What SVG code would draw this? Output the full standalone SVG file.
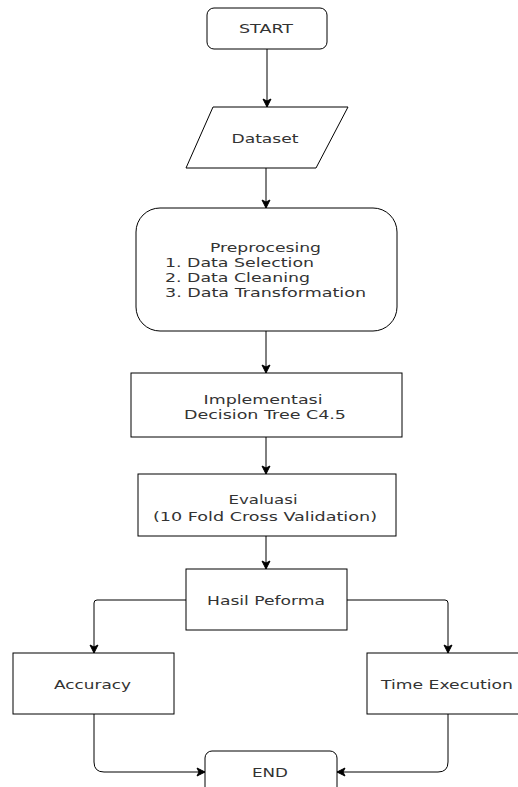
<svg xmlns="http://www.w3.org/2000/svg" width="518" height="787" viewBox="0 0 518 787">
<style>
.box{fill:#fff;stroke:#000;stroke-width:1}
.lbl{font-family:"DejaVu Sans","Verdana",sans-serif;font-size:12.5px;fill:#333;text-anchor:middle}
.lft{text-anchor:start}
.con{fill:none;stroke:#000;stroke-width:1}
</style>
<defs>
<marker id="arr" markerUnits="userSpaceOnUse" markerWidth="10" markerHeight="10" viewBox="0 0 10 10" refX="9" refY="5" orient="auto">
<path d="M1,1 L9,5 L1,9 L3,5 z" fill="#000" stroke="#000" stroke-width="1"/>
</marker>
</defs>
<rect width="518" height="787" fill="#fff"/>
<g id="connectors">
<path class="con" d="M267,49 V107" marker-end="url(#arr)"/>
<path class="con" d="M266,168 V208" marker-end="url(#arr)"/>
<path class="con" d="M266,331 V373" marker-end="url(#arr)"/>
<path class="con" d="M266,437 V474" marker-end="url(#arr)"/>
<path class="con" d="M266,536 V569" marker-end="url(#arr)"/>
<path class="con" d="M186,600 H97 Q94,600 94,603 V653" marker-end="url(#arr)"/>
<path class="con" d="M347,600 H445 Q448,600 448,603 V653" marker-end="url(#arr)"/>
<path class="con" d="M94,714 V762 Q94,772 104,772 H205" marker-end="url(#arr)"/>
<path class="con" d="M448,714 V762 Q448,772 438,772 H337" marker-end="url(#arr)"/>
</g>
<g id="start">
<rect class="box" x="207" y="8" width="120" height="41" rx="7"/>
<text class="lbl" x="266" y="33" textLength="54" lengthAdjust="spacingAndGlyphs">START</text>
</g>
<g id="dataset">
<polygon class="box" points="213,107 348,107 316,168 186,168"/>
<text class="lbl" x="265" y="143" textLength="67" lengthAdjust="spacingAndGlyphs">Dataset</text>
</g>
<g id="preprocesing">
<rect class="box" x="136" y="208" width="261" height="123" rx="24"/>
<text class="lbl" x="265.5" y="252" textLength="111" lengthAdjust="spacingAndGlyphs">Preprocesing</text>
<text class="lbl lft" x="165" y="267" textLength="149" lengthAdjust="spacingAndGlyphs">1. Data Selection</text>
<text class="lbl lft" x="165" y="282" textLength="145" lengthAdjust="spacingAndGlyphs">2. Data Cleaning</text>
<text class="lbl lft" x="165" y="297" textLength="201" lengthAdjust="spacingAndGlyphs">3. Data Transformation</text>
</g>
<g id="implementasi">
<rect class="box" x="131" y="373" width="271" height="64"/>
<text class="lbl" x="263" y="404" textLength="119" lengthAdjust="spacingAndGlyphs">Implementasi</text>
<text class="lbl" x="265" y="419" textLength="162" lengthAdjust="spacingAndGlyphs">Decision Tree C4.5</text>
</g>
<g id="evaluasi">
<rect class="box" x="138" y="474" width="258" height="62"/>
<text class="lbl" x="263" y="504" textLength="69" lengthAdjust="spacingAndGlyphs">Evaluasi</text>
<text class="lbl" x="265" y="521" textLength="224" lengthAdjust="spacingAndGlyphs">(10 Fold Cross Validation)</text>
</g>
<g id="hasil">
<rect class="box" x="186" y="569" width="161" height="61"/>
<text class="lbl" x="266" y="605" textLength="118" lengthAdjust="spacingAndGlyphs">Hasil Peforma</text>
</g>
<g id="accuracy">
<rect class="box" x="13" y="653" width="161" height="61"/>
<text class="lbl" x="92.5" y="689" textLength="77" lengthAdjust="spacingAndGlyphs">Accuracy</text>
</g>
<g id="time">
<rect class="box" x="367" y="653" width="161" height="61"/>
<text class="lbl" x="447" y="689" textLength="132" lengthAdjust="spacingAndGlyphs">Time Execution</text>
</g>
<g id="end">
<rect class="box" x="205" y="751" width="132" height="50" rx="7"/>
<text class="lbl" x="270" y="777" textLength="36" lengthAdjust="spacingAndGlyphs">END</text>
</g>
</svg>
